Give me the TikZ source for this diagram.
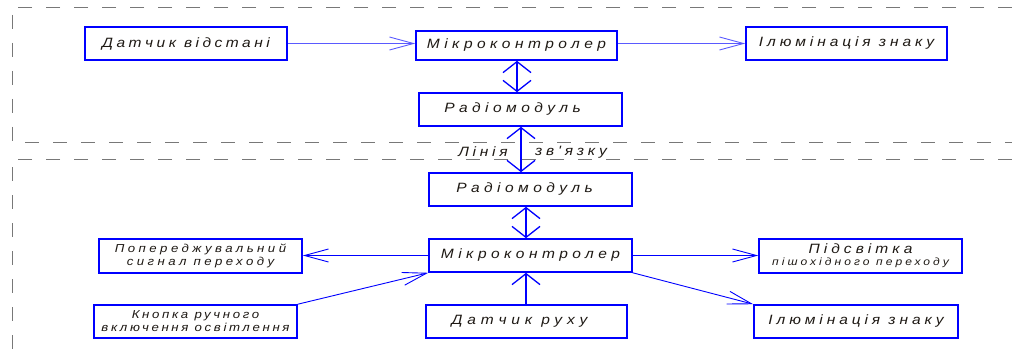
\documentclass[tikz,border=0pt]{standalone}
\usepackage{fontspec}
\setmainfont{Liberation Sans}
\newfontfamily\lab[FakeStretch=1.15,LetterSpace=28]{Liberation Sans}
\usetikzlibrary{arrows.meta}
\definecolor{bblue}{RGB}{0,0,255}
\definecolor{lblue}{RGB}{90,90,255}
\definecolor{dgray}{RGB}{120,120,120}
\definecolor{txt}{RGB}{30,25,20}
\newcommand{\lsp}[1]{\addfontfeature{LetterSpace=#1}}
\tikzset{
  blk/.style={draw=bblue, line width=1.6pt, fill=white, inner sep=0pt, text=txt,
    font=\lab\itshape\fontsize{13.5}{14}\selectfont, align=center},
  harr/.style={draw=bblue, line width=0.9pt, -{Straight Barb[length=24pt,width=13pt,line width=0.9pt]}},
  harrl/.style={draw=lblue, line width=0.9pt, -{Straight Barb[length=24pt,width=13pt,line width=0.9pt]}},
  varr/.style={draw=bblue, line width=1.6pt, {Straight Barb[length=11pt,width=28pt,line width=1.3pt]}-{Straight Barb[length=11pt,width=28pt,line width=1.3pt]}},
  uarr/.style={draw=bblue, line width=1.6pt, -{Straight Barb[length=11pt,width=28pt,line width=1.3pt]}},
  dsh/.style={draw=dgray, line width=0.8pt, dash pattern=on 14pt off 14pt},
  lbl/.style={text=txt, font=\lab\itshape\fontsize{13.5}{14}\selectfont, inner sep=0pt}
}
\begin{document}
\begin{tikzpicture}[x=1pt,y=-1pt]
\useasboundingbox (0,0) rectangle (1012,350);
\fill[white] (0,0) rectangle (1012,350);
% dashed frames
\draw[dsh] (1012,7) -- (12,7) -- (12,142) -- (1012,142);
\draw[dsh] (1012,159) -- (12,159) -- (12,350);
% top group
\node[blk, minimum width=202pt, minimum height=33pt] (ds) at (186,43.5) {\lsp{26}Датчик відстані};
\node[blk, minimum width=201pt, minimum height=29pt] (mk1) at (516.5,45.5) {\lsp{33}Мікроконтролер};
\node[blk, minimum width=201pt, minimum height=33pt] (il1) at (846.5,43.5) {\lsp{29}Ілюмінація знаку};
\node[blk, minimum width=203pt, minimum height=33pt] (rm1) at (520.5,109.5) {\lsp{33}Радіомодуль\hspace*{16pt}};
% bottom group
\node[blk, minimum width=203pt, minimum height=33pt] (rm2) at (530.5,189.5) {\lsp{33}Радіомодуль\hspace*{12pt}};
\node[blk, minimum width=203pt, minimum height=33pt] (mk2) at (530.5,255.5) {\lsp{33}Мікроконтролер};
\node[blk, minimum width=201pt, minimum height=33pt] (dr) at (526.5,321.5) {\lsp{36}Датчик руху\hspace*{14pt}};
\node[blk, minimum width=203pt, minimum height=34pt, font=\lab\itshape\fontsize{11.5}{13}\selectfont] (pp) at (200.5,256) {\lsp{30}Попереджувальний\\\lsp{30}сигнал переходу};
\node[blk, minimum width=203pt, minimum height=33pt, font=\lab\itshape\fontsize{11.5}{13}\selectfont] (kn) at (195.5,321.5) {\lsp{23}Кнопка ручного\\\lsp{23}включення освітлення};
\node[blk, minimum width=203pt, minimum height=34pt] (ps) at (860.5,256) {\lsp{30}Підсвітка\\[-2pt]{\fontsize{10.5}{11}\selectfont\lsp{29}пішохідного переходу}};
\node[blk, minimum width=204pt, minimum height=33pt] (il2) at (856,321.5) {\lsp{29}Ілюмінація знаку};
% connectors top
\draw[harrl] (ds.east) -- (ds.east -| mk1.west);
\draw[harrl] (mk1.east |- il1.west) -- (il1.west);
\draw[varr] (mk1.south -| 517,0) -- (rm1.north -| 517,0);
\draw[varr] (rm1.south -| 521,0) -- (rm2.north -| 521,0);
\node[lbl] (l1) at (483,152) {Лінія};
\node[lbl] (l2) at (571,152) {зв'язку};
% connectors bottom
\draw[varr] (rm2.south -| 526,0) -- (mk2.north -| 526,0);
\draw[uarr] (dr.north -| 526,0) -- (mk2.south -| 526,0);
\draw[harr] (mk2.west) -- (mk2.west -| pp.east);
\draw[harr] (kn.north east) -- (mk2.south west);
\draw[harr] (mk2.east) -- (mk2.east -| ps.west);
\draw[harr] (mk2.south east) -- (il2.north west);
\end{tikzpicture}
\end{document}
